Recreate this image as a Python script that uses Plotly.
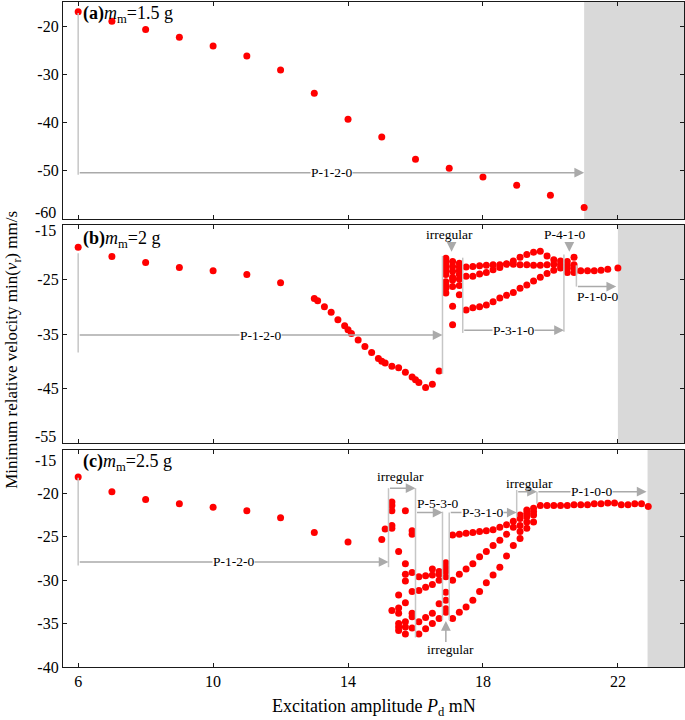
import plotly.graph_objects as go

FONT = "Liberation Serif, Times New Roman, serif"
RED = "#ff0000"
GUIDE = "#c6c6c6"
ARROW = "#aaaaaa"
SHADE = "#d9d9d9"
FRAME = "#1a1a1a"

# ---------------- panel (a): m_m = 1.5 g ----------------
a_x = [6, 7, 8, 9, 10, 11, 12, 13, 14, 15, 16, 17, 18, 19, 20, 21]
a_y = [-17.0, -19.0, -20.7, -22.3, -24.1, -26.2, -29.1, -33.9,
       -39.3, -43.0, -47.6, -49.5, -51.3, -53.0, -55.1, -57.6]
a_shade_from = 21

# ---------------- panel (b): m_m = 2 g ----------------
b_p120_x = [6, 7, 8, 9, 10, 11, 12, 13.0, 13.1, 13.3, 13.5, 13.7, 13.9, 14.0,
            14.1, 14.3, 14.5, 14.7, 14.9, 15.0, 15.1, 15.3, 15.5, 15.7, 15.9,
            16.0, 16.1, 16.3, 16.5, 16.7]
b_p120_y = [-19.1, -20.8, -21.9, -22.8, -23.4, -24.1, -25.6, -28.5, -28.9,
            -30.0, -31.0, -32.4, -33.5, -34.2, -34.9, -36.1, -37.3, -38.4,
            -39.5, -40.0, -40.3, -40.9, -41.2, -42.0, -42.9, -43.4, -43.9,
            -44.8, -44.2, -41.8]
b_irr_x = [16.9, 17.1, 17.3]
b_irr_y = [[-21.1, -21.7, -22.3, -22.9, -23.5, -24.1, -25.4, -26.0, -26.6, -27.5],
           [-21.7, -22.6, -23.5, -24.6, -25.1, -26.3, -29.9, -33.3],
           [-22.0, -22.7, -23.4, -24.1, -24.9, -26.1, -27.8]]
b_p310_x = [17.5, 17.7, 17.9, 18.1, 18.3, 18.5, 18.7, 18.9, 19.1, 19.3, 19.5,
            19.7, 19.9, 20.1, 20.3]
b_p310_a = [-22.7, -22.6, -22.5, -22.4, -22.3, -22.3, -22.2, -22.2, -22.3,
            -22.3, -22.4, -22.4, -22.3, -22.2, -22.3]
b_p310_b = [-24.4, -24.4, -24.0, -23.7, -23.2, -22.8, -22.1, -21.6, -20.9,
            -20.4, -20.0, -19.8, -20.7, -21.4, -21.6]
b_p310_c = [-30.6, -30.2, -30.0, -29.7, -29.1, -28.4, -27.9, -27.4, -26.6,
            -26.0, -25.3, -24.6, -23.9, -23.3, -22.9]
b_p410_x = [20.5, 20.7]
b_p410_y = [[-21.7, -22.4, -23.0, -23.7],
            [-20.9, -22.3, -22.9, -23.7]]
b_p100_x = [20.9, 21.1, 21.3, 21.5, 21.7, 22.0]
b_p100_y = [-23.4, -23.4, -23.4, -23.3, -23.1, -22.9]
b_shade_from = 22

# ---------------- panel (c): m_m = 2.5 g ----------------
c_p120_x = [6, 7, 8, 9, 10, 11, 12, 13, 14, 15.0, 15.1]
c_p120_y = [-18.1, -19.8, -20.7, -21.2, -21.6, -22.0, -22.8, -24.5, -25.6,
            -25.3, -24.1]
c_irr1_x = [15.3, 15.5, 15.7, 15.9]
c_irr1_y = [[-21.0, -21.4, -22.0, -23.7, -24.0, -33.5],
            [-26.7, -31.7, -33.2, -33.8, -35.0, -35.4, -35.8],
            [-22.0, -28.1, -29.3, -30.1, -32.6, -34.8, -35.4, -36.2],
            [-24.3, -24.7, -29.1, -31.3, -33.8, -34.2, -35.5]]
c_p530_x = [16.1, 16.3, 16.5, 16.7]
c_p530_y = [[-29.6, -31.2, -34.8, -36.2],
            [-29.5, -30.8, -34.3, -35.6],
            [-28.7, -29.4, -30.5, -33.8, -35.0],
            [-29.0, -29.3, -30.0, -32.7, -34.4]]
c_irr2_x = [16.9]
c_irr2_y = [[-28.0, -28.5, -29.0, -29.6, -31.4, -32.3, -33.3, -33.7]]
c_p310_x = [17.1, 17.3, 17.5, 17.7, 17.9, 18.1, 18.3, 18.5, 18.7, 18.9]
c_p310_top = [-24.8, -24.7, -24.6, -24.5, -24.4, -24.3, -24.2, -23.9, -23.6, -23.2]
c_p310_mid = [-30.0, -29.3, -28.7, -28.1, -27.3, -26.7, -26.0, -25.4, -24.7, -23.9]
c_p310_low = [-34.4, -33.7, -33.1, -32.3, -31.3, -30.3, -29.4, -28.5, -27.2, -26.0]
c_irr3_x = [19.1, 19.3, 19.5]
c_irr3_y = [[-22.5, -22.9, -23.7, -24.4, -25.2],
            [-21.9, -22.3, -22.7, -23.3, -24.0],
            [-21.7, -22.1, -22.5, -23.3]]
c_p100_x = [19.7, 19.9, 20.1, 20.3, 20.5, 20.7, 20.9, 21.1, 21.3, 21.5, 21.7,
            21.9, 22.1, 22.3, 22.5, 22.7, 22.9]
c_p100_y = [-21.4, -21.4, -21.4, -21.4, -21.4, -21.3, -21.3, -21.3, -21.2,
            -21.2, -21.1, -21.1, -21.3, -21.3, -21.2, -21.2, -21.5]
c_shade_from = 22.88

X_RANGE = [5.55, 23.96]
X_TICKS = [6, 10, 14, 18, 22]


def stack(xs, ys_lists):
    px, py = [], []
    for x, ys in zip(xs, ys_lists):
        px += [x] * len(ys)
        py += ys
    return px, py


def join(*pairs):
    xs, ys = [], []
    for x, y in pairs:
        xs += list(x)
        ys += list(y)
    return xs, ys


panel_a = join((a_x, a_y))
panel_b = join((b_p120_x, b_p120_y), stack(b_irr_x, b_irr_y),
               (b_p310_x, b_p310_a), (b_p310_x, b_p310_b), (b_p310_x, b_p310_c),
               stack(b_p410_x, b_p410_y), (b_p100_x, b_p100_y))
panel_c = join((c_p120_x, c_p120_y), stack(c_irr1_x, c_irr1_y),
               stack(c_p530_x, c_p530_y), stack(c_irr2_x, c_irr2_y),
               (c_p310_x, c_p310_top), (c_p310_x, c_p310_mid), (c_p310_x, c_p310_low),
               stack(c_irr3_x, c_irr3_y), (c_p100_x, c_p100_y))

fig = go.Figure()
for (xs, ys), xa, ya in [(panel_a, "x", "y"), (panel_b, "x2", "y2"), (panel_c, "x3", "y3")]:
    fig.add_trace(go.Scatter(x=xs, y=ys, xaxis=xa, yaxis=ya, mode="markers",
                             marker=dict(color=RED, size=7), hoverinfo="skip"))

# shaded (no data) zones
for xa, ya, x0 in [("x", "y", a_shade_from), ("x2", "y2", b_shade_from), ("x3", "y3", c_shade_from)]:
    fig.add_shape(type="rect", xref=xa, yref=ya + " domain", x0=x0, x1=X_RANGE[1],
                  y0=0, y1=1, fillcolor=SHADE, line_width=0, layer="below")

# guide lines: (axis suffix, x, y0, y1)
vlines = [
    ("", 6, -17.3, -50.8),
    ("2", 6, -20.2, -38.4), ("2", 16.8, -20.7, -42.3), ("2", 17.4, -21.0, -34.8),
    ("2", 20.4, -20.4, -34.6), ("2", 20.77, -22.4, -26.3),
    ("3", 6, -18.2, -28.3), ("3", 15.2, -19.4, -28.5), ("3", 16.0, -19.4, -36.6),
    ("3", 16.8, -22.1, -34.6), ("3", 17.0, -22.2, -34.6), ("3", 19.0, -19.6, -22.7),
    ("3", 19.6, -19.8, -21.2),
]
for s, x, y0, y1 in vlines:
    fig.add_shape(type="line", xref="x" + s, yref="y" + s, x0=x, x1=x, y0=y0, y1=y1,
                  line=dict(color=GUIDE, width=1.5))

# arrows: (axis suffix, x_start, y_start, x_end, y_end)
arrows = [
    ("", 6, -50.4, 21, -50.4),
    ("2", 6, -35.2, 16.8, -35.2), ("2", 17.4, -34.3, 20.4, -34.3),
    ("2", 20.77, -26.3, 21.95, -26.3),
    ("2", 17.07, -18.3, 17.07, -19.9), ("2", 20.56, -18.3, 20.56, -19.9),
    ("3", 6, -27.9, 15.2, -27.9), ("3", 15.2, -19.4, 16.0, -19.4),
    ("3", 16.0, -22.2, 16.8, -22.2), ("3", 17.0, -22.2, 19.0, -22.2),
    ("3", 19.0, -19.8, 19.6, -19.8), ("3", 19.6, -19.8, 22.85, -19.8),
    ("3", 16.9, -37.3, 16.9, -34.7),
]
for s, x0, y0, x1, y1 in arrows:
    fig.add_annotation(x=x1, y=y1, ax=x0, ay=y0, xref="x" + s, yref="y" + s,
                       axref="x" + s, ayref="y" + s, text="", showarrow=True,
                       arrowhead=2, arrowsize=1.3, arrowwidth=1.5, arrowcolor=ARROW)

# regime labels: (axis suffix, text, x, y, white background)
labels = [
    ("", "P-1-2-0", 13.5, -50.4, True),
    ("2", "P-1-2-0", 11.4, -35.2, True), ("2", "P-3-1-0", 18.9, -34.3, True),
    ("2", "irregular", 17.02, -16.7, False), ("2", "P-4-1-0", 20.43, -16.7, False),
    ("2", "P-1-0-0", 21.4, -28.1, False),
    ("3", "P-1-2-0", 10.6, -27.9, True), ("3", "irregular", 15.56, -18.0, False),
    ("3", "P-5-3-0", 16.65, -21.2, False), ("3", "P-3-1-0", 18.0, -22.2, True),
    ("3", "irregular", 19.37, -18.9, False), ("3", "P-1-0-0", 21.22, -19.8, True),
    ("3", "irregular", 17.04, -38.0, False),
]
for s, t, x, y, bg in labels:
    fig.add_annotation(x=x, y=y, xref="x" + s, yref="y" + s, text=t, showarrow=False,
                       font=dict(family=FONT, size=13.5, color="black"),
                       bgcolor="white" if bg else "rgba(0,0,0,0)", borderpad=0)

# panel titles
panel_titles = [("", "<b>(a)</b><i>m</i><sub>m</sub>=1.5 g", -17.5),
                ("2", "<b>(b)</b><i>m</i><sub>m</sub>=2 g", -17.75),
                ("3", "<b>(c)</b><i>m</i><sub>m</sub>=2.5 g", -16.4)]
for s, t, y in panel_titles:
    fig.add_annotation(x=6.08, y=y, xref="x" + s, yref="y" + s, text=t, showarrow=False,
                       xanchor="left", yanchor="middle",
                       font=dict(family=FONT, size=18, color="black"))

# edge tick labels nudged inward, as in the original
edge_ticks = [("", -60, "-60", 6), ("2", -15, "-15", -6), ("2", -55, "-55", 7),
              ("3", -15, "-15", -10)]
for s, v, t, shift in edge_ticks:
    fig.add_annotation(x=0, y=v, xref="paper", yref="y" + s, text=t, showarrow=False,
                       xanchor="right", yanchor="middle", xshift=-5, yshift=shift,
                       font=dict(family=FONT, size=16, color="black"))

fig.add_annotation(x=-0.1015, y=0.477, xref="paper", yref="paper", textangle=-90,
                   xanchor="left", yanchor="middle",
                   text="Minimum relative velocity min(<i>v</i><sub>r</sub>) mm/s",
                   showarrow=False, font=dict(family=FONT, size=17, color="black"))
fig.add_annotation(x=0.5, y=-0.061, xref="paper", yref="paper",
                   text="Excitation amplitude <i>P</i><sub>d</sub> mN",
                   showarrow=False, yanchor="middle",
                   font=dict(family=FONT, size=18, color="black"))

axis_style = dict(showline=True, linecolor=FRAME, linewidth=1.3, mirror="ticks",
                  ticks="inside", ticklen=4, tickcolor=FRAME, showgrid=False,
                  zeroline=False, tickfont=dict(family=FONT, size=16, color="black"))

fig.update_layout(
    width=685, height=720,
    margin=dict(l=63, r=1, t=2, b=53),
    paper_bgcolor="white", plot_bgcolor="white", showlegend=False,
    xaxis=dict(anchor="y", range=X_RANGE, tickvals=X_TICKS, showticklabels=False, **axis_style),
    xaxis2=dict(anchor="y2", matches="x", range=X_RANGE, tickvals=X_TICKS,
                showticklabels=False, **axis_style),
    xaxis3=dict(anchor="y3", matches="x", range=X_RANGE, tickvals=X_TICKS,
                ticktext=[str(v) for v in X_TICKS], **axis_style),
    yaxis=dict(anchor="x", domain=[0.6737, 1.0], range=[-60, -15],
               tickvals=[-60, -50, -40, -30, -20],
               ticktext=["", "-50", "-40", "-30", "-20"], **axis_style),
    yaxis2=dict(anchor="x2", domain=[0.3368, 0.6647], range=[-55, -15],
                tickvals=[-55, -45, -35, -25, -15],
                ticktext=["", "-45", "-35", "-25", ""], **axis_style),
    yaxis3=dict(anchor="x3", domain=[0.0, 0.3263], range=[-40, -15],
                tickvals=[-40, -35, -30, -25, -20, -15],
                ticktext=["-40", "-35", "-30", "-25", "-20", ""], **axis_style),
)

fig.write_html("out.html", config={"displayModeBar": False},
               post_script="document.body.style.margin = '0';")
